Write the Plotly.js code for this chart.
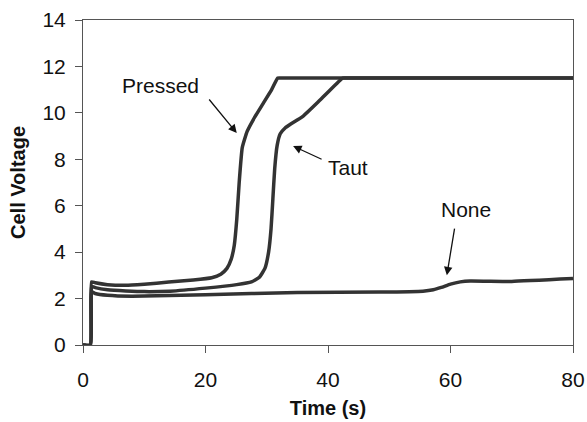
<!DOCTYPE html>
<html>
<head>
<meta charset="utf-8">
<script src="https://cdn.plot.ly/plotly-3.0.1.min.js"></script>
<style>html,body{margin:0;padding:0;background:#fff;}#chart{width:587px;height:422px;}</style>
</head>
<body>
<div id="chart"></div>
<script>
// Data
const pressedTime = [0, 1.2, 1.4, 2, 4, 7, 10, 14, 18, 21, 22.5, 23.5, 24.2, 24.7, 25.1, 25.5, 26, 26.8, 28, 29.4, 30.8, 31.8, 32.4, 34, 40, 50, 60, 70, 80];
const pressedVolt = [0, 0, 2.72, 2.68, 2.6, 2.57, 2.62, 2.71, 2.8, 2.9, 3.05, 3.3, 3.7, 4.3, 5.4, 7, 8.5, 9.2, 9.8, 10.4, 11.0, 11.5, 11.5, 11.5, 11.5, 11.5, 11.5, 11.5, 11.5];

const tautTime = [0, 1.2, 1.4, 2, 4, 7, 10, 14.2, 20, 25.1, 27.5, 28.8, 29.7, 30.3, 30.7, 31.0, 31.3, 31.7, 32.2, 33.0, 33.8, 35.9, 38.7, 42.4, 43.0, 45, 50, 60, 70, 80];
const tautVolt = [0, 0, 2.52, 2.47, 2.38, 2.33, 2.3, 2.32, 2.45, 2.6, 2.72, 2.92, 3.3, 4.0, 5.0, 6.3, 7.6, 8.6, 9.1, 9.35, 9.5, 9.85, 10.55, 11.5, 11.5, 11.5, 11.5, 11.5, 11.5, 11.5];

const noneTime = [0, 1.2, 1.4, 2, 4, 8, 20, 35, 48.5, 55.5, 57.2, 58.5, 60, 61.6, 63.2, 70, 80];
const noneVolt = [0, 0, 2.3, 2.22, 2.14, 2.1, 2.17, 2.26, 2.28, 2.32, 2.38, 2.48, 2.62, 2.72, 2.76, 2.74, 2.86];

const labels = ["Pressed", "Taut", "None"];
const labelPos = [[12.6, 11.2], [43.3, 7.63], [62.5, 5.82]];
const arrowTail = [[20.4, 10.64], [39.2, 7.97], [60.7, 5.08]];
const arrowTip = [[25.1, 9.13], [34.3, 8.57], [59.4, 3.0]];

const lineStyle = {color: '#333333', width: 3.5, shape: 'spline', smoothing: 0.4};
const series = [[pressedTime, pressedVolt], [tautTime, tautVolt], [noneTime, noneVolt]];
const traces = series.map((s, i) => ({
  x: s[0], y: s[1], type: 'scatter', mode: 'lines', name: labels[i],
  line: lineStyle, hoverinfo: 'skip'
}));

const textFont = {family: 'Liberation Sans, Arial, sans-serif', size: 21, color: '#111'};
const annotations = [];
labels.forEach((lab, i) => {
  annotations.push({
    x: labelPos[i][0], y: labelPos[i][1], xref: 'x', yref: 'y',
    text: lab, showarrow: false, font: textFont
  });
  annotations.push({
    x: arrowTip[i][0], y: arrowTip[i][1], xref: 'x', yref: 'y',
    ax: arrowTail[i][0], ay: arrowTail[i][1], axref: 'x', ayref: 'y',
    text: '', showarrow: true, arrowhead: 2, arrowsize: 1.3, arrowwidth: 1.3,
    arrowcolor: '#111', standoff: 0
  });
});

const tickFont = {family: 'Liberation Sans, Arial, sans-serif', size: 21, color: '#111'};
const titleFont = {family: 'Liberation Sans, Arial, sans-serif', size: 20, color: '#111'};
const layout = {
  width: 587, height: 422,
  margin: {l: 83, r: 14, t: 20, b: 77},
  paper_bgcolor: '#fff', plot_bgcolor: '#fff',
  showlegend: false,
  font: tickFont,
  xaxis: {
    range: [0, 80], tickvals: [0, 20, 40, 60, 80],
    showgrid: false, zeroline: false,
    showline: true, linecolor: '#555', linewidth: 1, mirror: true,
    ticks: 'outside', ticklen: 7, tickcolor: '#555', tickwidth: 1,
    ticklabelstandoff: 9,
    tickfont: tickFont,
    title: {text: '<b>Time (s)</b>', font: titleFont, standoff: 10}
  },
  yaxis: {
    range: [0, 14], tickvals: [0, 2, 4, 6, 8, 10, 12, 14],
    showgrid: false, zeroline: false,
    showline: true, linecolor: '#555', linewidth: 1, mirror: true,
    ticks: 'outside', ticklen: 7, tickcolor: '#555', tickwidth: 1,
    ticklabelstandoff: 5,
    tickfont: tickFont,
    title: {text: '<b>Cell Voltage</b>', font: titleFont, standoff: 11}
  },
  annotations: annotations
};

Plotly.newPlot('chart', traces, layout, {staticPlot: true, displayModeBar: false});
</script>
</body>
</html>
